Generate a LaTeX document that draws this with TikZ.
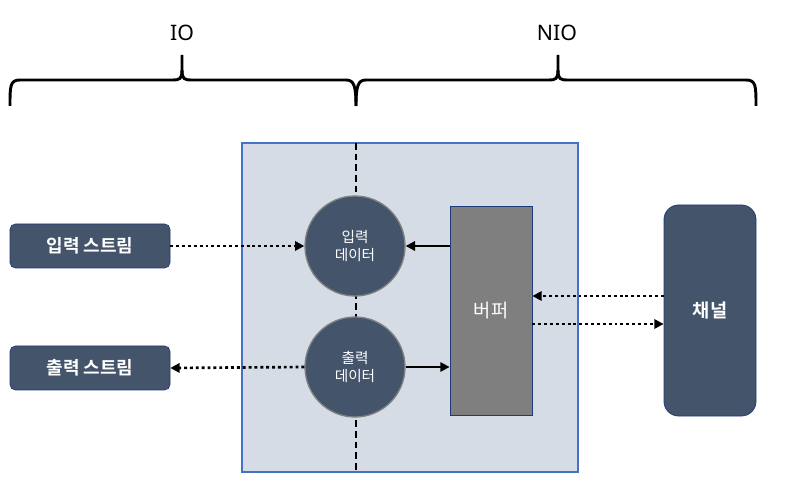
\documentclass[tikz,border=0pt]{standalone}
\usepackage{fontspec}
\setmainfont{Noto Sans}
\newfontfamily\kr{Noto Sans CJK KR}
\newfontfamily\krb{Noto Sans CJK KR Bold}
\usetikzlibrary{arrows.meta}
\definecolor{navy}{HTML}{44546A}
\definecolor{panel}{HTML}{D6DCE5}
\definecolor{panelborder}{HTML}{4472C4}
\definecolor{bufgray}{HTML}{7F7F7F}
\definecolor{darkblue}{HTML}{1F3A7A}
\tikzset{
  brace/.style={line width=2.2pt, line join=round},
  streambox/.style={draw=darkblue, fill=navy, rounded corners=4pt, minimum width=120pt, minimum height=33pt, text=white, font=\krb\fontsize{13.5}{15}\selectfont, line width=0.5pt},
  datacircle/.style={circle, draw=gray, fill=navy, line width=1pt, minimum size=75pt, inner sep=0pt, text=white, align=center, font=\kr\fontsize{11}{14}\selectfont},
  bufbox/.style={draw=darkblue, fill=bufgray, minimum width=61.5pt, minimum height=156.75pt, text=white, font=\kr\fontsize{14}{16}\selectfont, line width=0.6pt},
  chanbox/.style={draw=darkblue, fill=navy, rounded corners=11pt, minimum width=69pt, minimum height=158.25pt, text=white, font=\krb\fontsize{14}{16}\selectfont, line width=0.6pt},
  dotline/.style={line width=2pt, dash pattern=on 2.2pt off 2.2pt},
  dottip/.style={-{Triangle[length=7pt,width=7pt]}},
  solidarrow/.style={line width=1.6pt, -{Triangle[length=7pt,width=7pt]}},
  sep/.style={line width=1.5pt, dash pattern=on 5pt off 3pt},
  label/.style={font=\fontsize{16}{18}\selectfont}
}
\begin{document}
\begin{tikzpicture}[x=0.75pt,y=-0.75pt]
\useasboundingbox (0,0) rectangle (800,495);
% braces
\draw[brace] (10,106) .. controls (10,86) and (10,80) .. (20,80) -- (172,80) .. controls (180,80) and (182,79) .. (182,70) -- (182,55);
\draw[brace] (182,70) .. controls (182,79) and (184,80) .. (192,80) -- (346,80) .. controls (354,80) and (356,86) .. (356,106);
\draw[brace] (356,106) .. controls (356,86) and (358,80) .. (366,80) -- (548,80) .. controls (556,80) and (558,79) .. (558,70) -- (558,55);
\draw[brace] (558,70) .. controls (558,79) and (560,80) .. (568,80) -- (746,80) .. controls (756,80) and (756,86) .. (756,106);
\node[label] (io) at (182,33) {IO};
\node[label] (nio) at (557,33) {NIO};
% panel
\node[draw=panelborder, fill=panel, line width=1pt, minimum width=252pt, minimum height=246.75pt, inner sep=0pt] (panel) at (410,307.5) {};
\coordinate (septop) at (356,143);
\coordinate (sepbot) at (356,472);
\draw[sep] (septop) -- (sepbot);
% nodes
\node[datacircle] (in) at (355,246) {입력\\데이터};
\node[datacircle] (out) at (355,367) {출력\\데이터};
\node[bufbox] (buf) at (491,310.5) {버퍼};
\node[chanbox] (chan) at (710,310.5) {채널};
\node[streambox] (instream) at (90,246) {입력 스트림};
\node[streambox] (outstream) at (90,368) {출력 스트림};
% connectors
\draw[dotline, dottip] (instream.east) -- (in.west);
\draw[dotline, dottip] (out.west) -- (outstream.east);
\draw[solidarrow] (buf.west |- in.east) -- (in.east);
\draw[solidarrow] (out.east) -- (buf.west |- out.east);
\draw[dotline, dottip] (chan.west |- 0,296) -- (buf.east |- 0,296);
\draw[dotline, dottip] (buf.east |- 0,324) -- (chan.west |- 0,324);
\end{tikzpicture}
\end{document}
